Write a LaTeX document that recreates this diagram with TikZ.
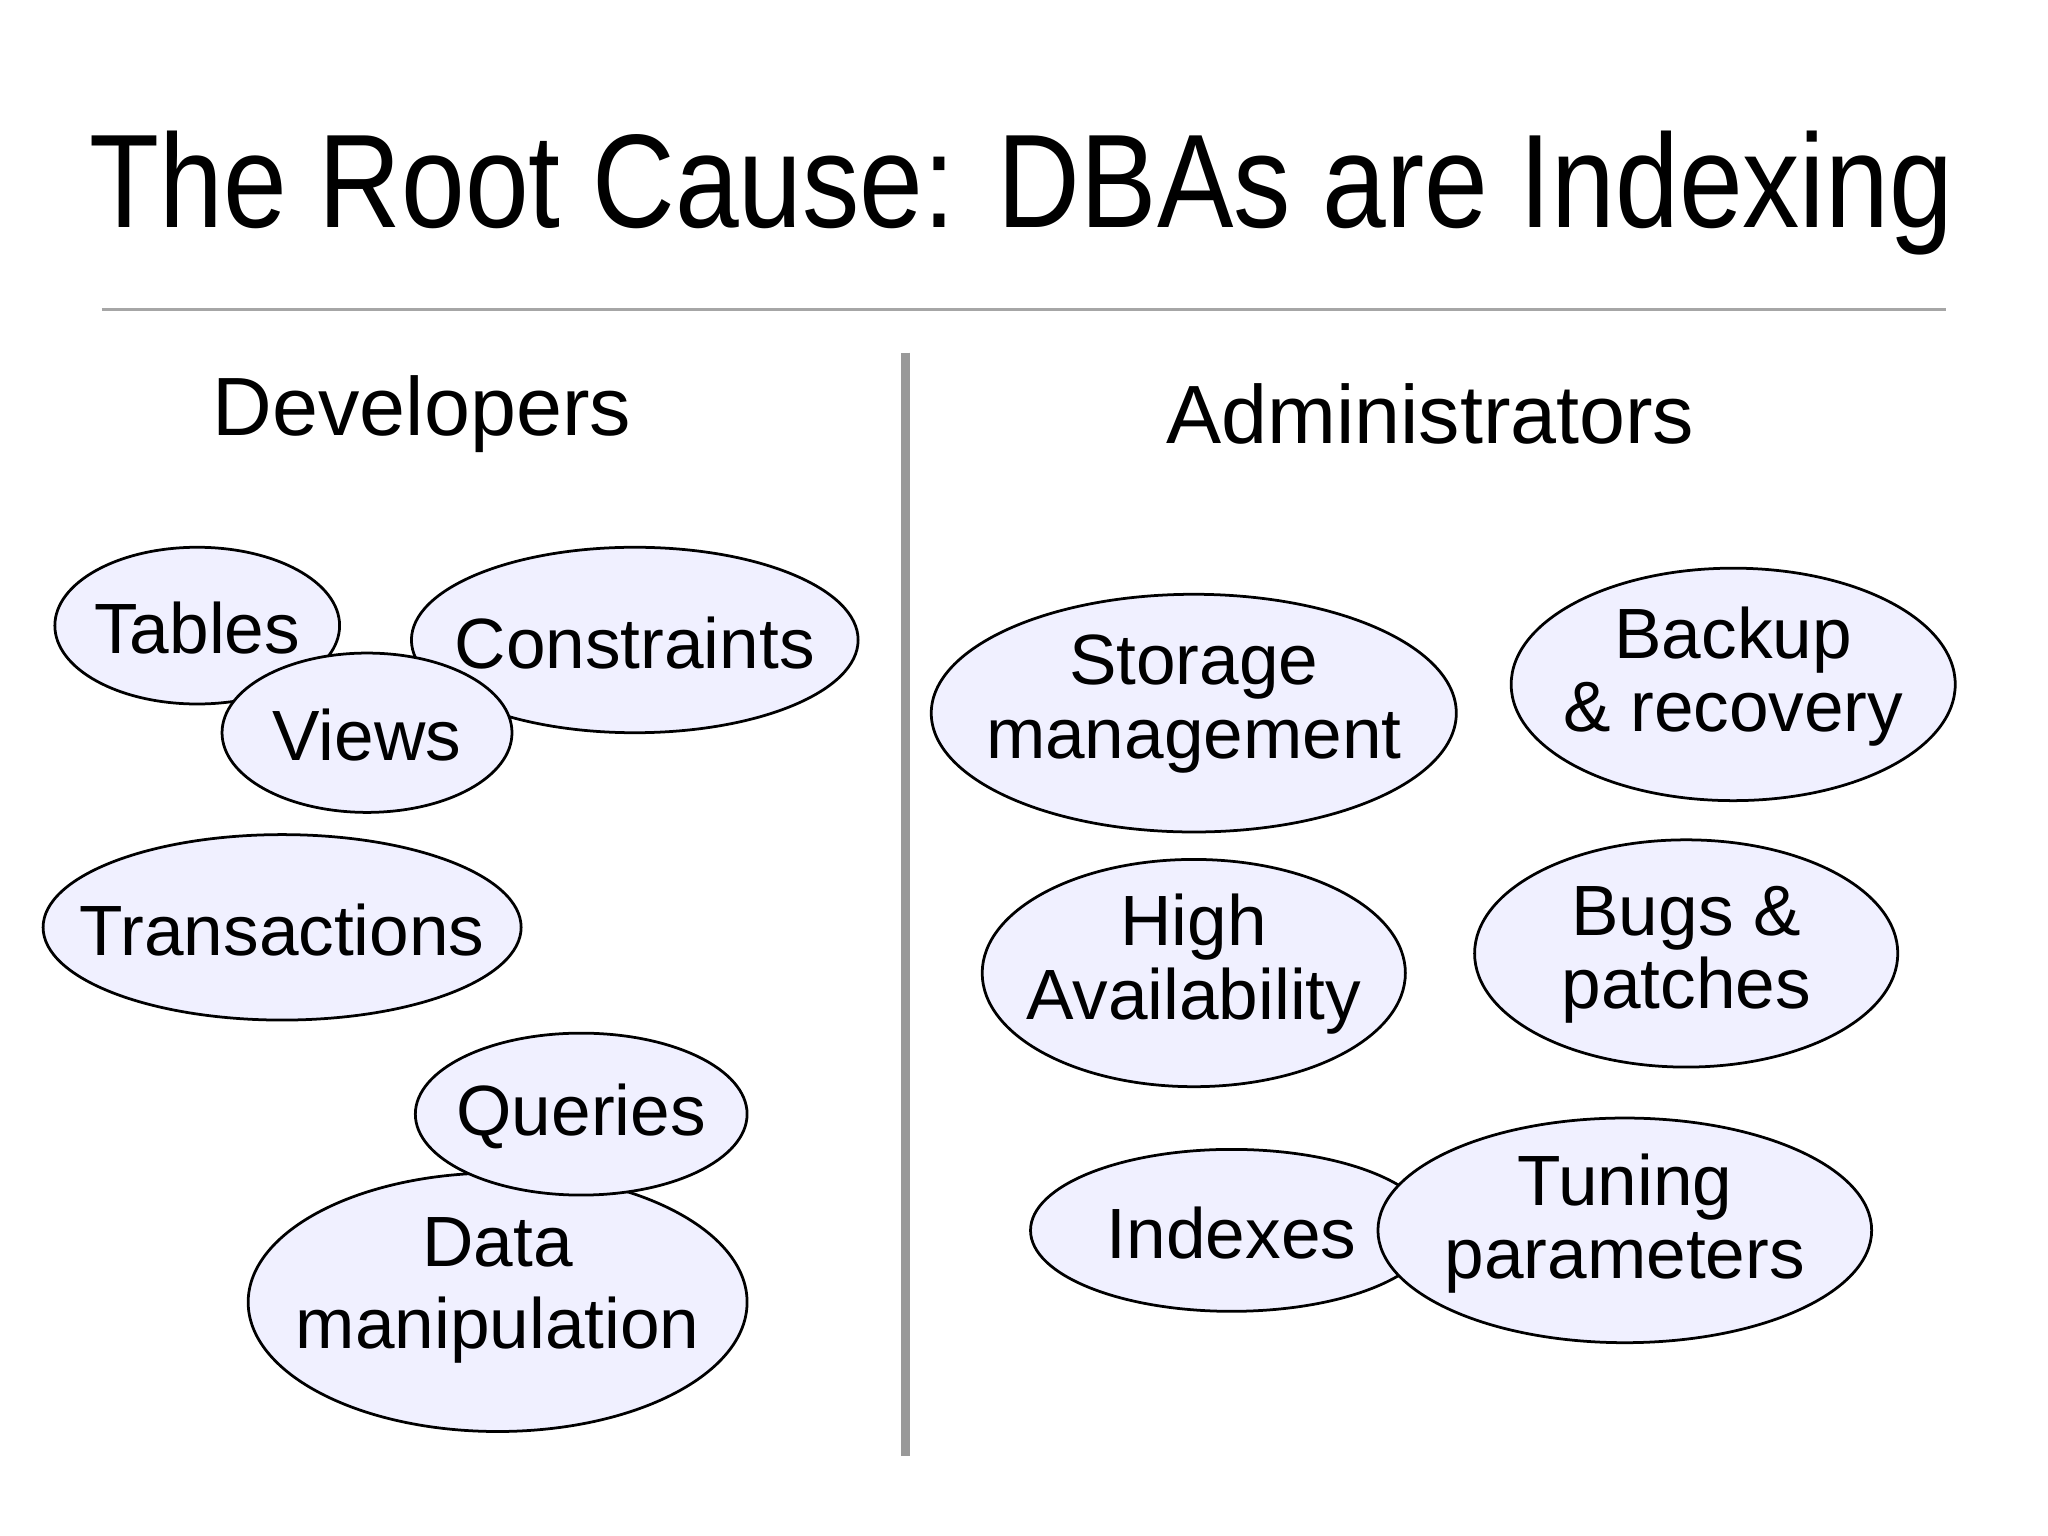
\documentclass[tikz,border=0pt]{standalone}
\usepackage{fontspec}
\setmainfont{Liberation Sans}
\usetikzlibrary{shapes.geometric}
\begin{document}
\begin{tikzpicture}[x=0.01cm,y=-0.01cm,
  el/.style={draw=black,line width=0.6pt,fill=blue!6!white},
  lab/.style={align=center,font=\fontsize{15.5}{16}\selectfont}]
\useasboundingbox (0,0) rectangle (1568,1176);
\fill[white] (0,0) rectangle (1568,1176);
\node[font=\fontsize{29}{30}\selectfont] (title) at (782,148) {\scalebox{0.86}[1]{The Root Cause: DBAs are Indexing}};
\draw[gray!70,line width=0.8pt] (78,237) -- (1490,237);
\draw[gray!80,line width=2pt] (693,270) -- (693,1115);
\node[font=\fontsize{18}{20}\selectfont] (dev) at (323,317) {Developers};
\node[font=\fontsize{18}{20}\selectfont] (adm) at (1095,317) {Administrators};
% developers
\draw[el] (151,479) ellipse [x radius=109,y radius=60];
\node[lab] (tab) at (151,481) {Tables};
\draw[el] (486,490) ellipse [x radius=171,y radius=71];
\node[lab] (con) at (486,492) {Constraints};
\draw[el] (281,561) ellipse [x radius=111,y radius=61];
\node[lab] (vie) at (281,563) {Views};
\draw[el] (216,710) ellipse [x radius=183,y radius=71];
\node[lab] (tra) at (216,712) {Transactions};
\draw[el] (381,997) ellipse [x radius=191,y radius=99];
\node[lab] (dat) at (381,988) {Data\\[2pt]manipulation};
\draw[el] (445,853) ellipse [x radius=127,y radius=62];
\node[lab] (que) at (445,855) {Queries};
% administrators
\draw[el] (914,546) ellipse [x radius=201,y radius=91];
\node[lab] (sto) at (914,539) {Storage\\management};
\draw[el] (1327,524) ellipse [x radius=170,y radius=89];
\node[lab] (bac) at (1327,518) {Backup\\\& recovery};
\draw[el] (914,745) ellipse [x radius=162,y radius=87];
\node[lab] (hig) at (914,738) {High\\Availability};
\draw[el] (1291,730) ellipse [x radius=162,y radius=87];
\node[lab] (bug) at (1291,731) {Bugs \&\\patches};
\draw[el] (943,942) ellipse [x radius=154,y radius=62];
\node[lab] (ind) at (943,944) {Indexes};
\draw[el] (1244,942) ellipse [x radius=189,y radius=86];
\node[lab] (tun) at (1244,937) {Tuning\\parameters};
\end{tikzpicture}
\end{document}
